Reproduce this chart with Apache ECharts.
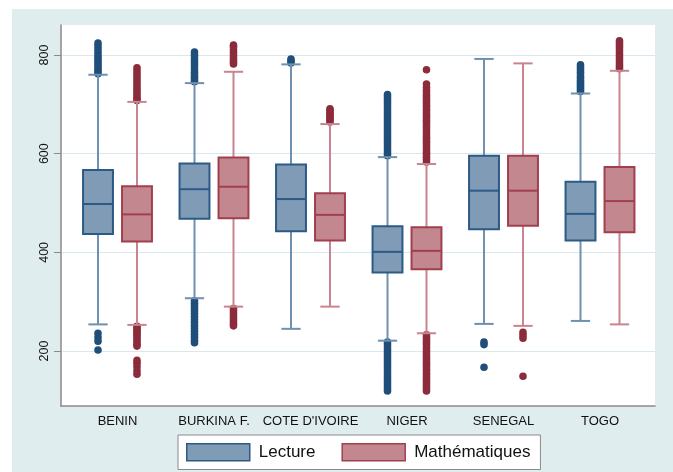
<!DOCTYPE html>
<html>
<head>
<meta charset="utf-8">
<script src="https://cdn.jsdelivr.net/npm/echarts@6/dist/echarts.min.js"></script>
<style>html,body{margin:0;padding:0;background:#fff}#c{width:673px;height:472px}</style>
</head>
<body>
<div id="c"></div>
<script>
const categories = ['BENIN', 'BURKINA F.', "COTE D'IVOIRE", 'NIGER', 'SENEGAL', 'TOGO'];
const seriesNames = ['Lecture', 'Mathématiques'];
// [lower whisker, Q1, median, Q3, upper whisker]
const lectureBox = [
  [254, 437, 498, 567, 760],
  [307, 468, 528, 580, 743],
  [245, 443, 508, 578, 781],
  [221, 359, 401, 453, 593],
  [255, 447, 525, 596, 792],
  [261, 424, 478, 543, 722]
];
const mathBox = [
  [253, 422, 477, 534, 705],
  [290, 469, 533, 592, 766],
  [290, 424, 476, 520, 660],
  [236, 366, 403, 451, 579],
  [251, 454, 525, 596, 783],
  [254, 441, 504, 573, 768]
];
const lectureOutliers = [
  [762, 766, 770, 775, 780, 785, 790, 795, 800, 806, 812, 818, 824, 236, 228, 220, 202],
  [746, 750, 755, 760, 765, 770, 776, 782, 788, 794, 800, 806, 302, 297, 292, 287, 282, 276, 270, 264, 258, 252, 246, 240, 234, 228, 222, 217],
  [784, 788, 792],
  [596, 601, 606, 611, 616, 621, 626, 631, 636, 641, 646, 651, 656, 661, 666, 671, 676, 681, 686, 691, 696, 701, 706, 711, 716, 720,
   218, 213, 208, 203, 198, 193, 188, 183, 178, 173, 168, 163, 158, 153, 148, 143, 138, 133, 128, 123, 119],
  [218, 213, 167],
  [726, 730, 734, 738, 742, 746, 750, 755, 760, 765, 770, 775, 780]
];
const mathOutliers = [
  [708, 712, 717, 722, 727, 732, 738, 744, 750, 756, 762, 768, 774, 250, 246, 242, 238, 234, 229, 224, 219, 214, 210, 181, 175, 168, 160, 153],
  [782, 786, 790, 795, 800, 805, 810, 816, 820, 286, 281, 276, 271, 266, 261, 256, 251],
  [664, 668, 672, 676, 680, 684, 688, 691],
  [583, 588, 593, 598, 603, 608, 613, 618, 623, 628, 633, 638, 643, 648, 653, 658, 663, 668, 673, 678, 683, 688, 693, 698, 703, 708, 713, 718, 723, 728, 734, 741, 770,
   233, 228, 223, 218, 213, 208, 203, 198, 193, 188, 183, 178, 173, 168, 163, 158, 153, 148, 143, 138, 133, 128, 123, 119],
  [238, 232, 226, 149],
  [772, 776, 780, 785, 790, 795, 800, 805, 810, 815, 820, 825, 829]
];
const yTicks = [200, 400, 600, 800];
const yMin = 88.6, yMax = 860.8;

const styles = [
  { fill: '#7f9bb6', border: '#2c5a86', whisker: '#6f90af', dot: '#1f4e7a', offset: -0.202 },
  { fill: '#c2878f', border: '#a23f4e', whisker: '#c9848f', dot: '#8c2b3b', offset: 0.202 }
];

function boxRender(st) {
  return function (params, api) {
    const idx = api.value(0);
    const band = api.size([1, 0])[0];
    const cx = api.coord([idx, 0])[0] + st.offset * band;
    const py = k => api.coord([idx, api.value(k)])[1];
    const yLo = py(1), yQ1 = py(2), yMed = py(3), yQ3 = py(4), yHi = py(5);
    const bw = band * 0.31, cap = band * 0.2;
    const wl = { stroke: st.whisker, lineWidth: 2 };
    return {
      type: 'group',
      children: [
        { type: 'line', shape: { x1: cx, y1: yHi, x2: cx, y2: yQ3 }, style: wl },
        { type: 'line', shape: { x1: cx, y1: yQ1, x2: cx, y2: yLo }, style: wl },
        { type: 'line', shape: { x1: cx - cap / 2, y1: yHi, x2: cx + cap / 2, y2: yHi }, style: wl },
        { type: 'line', shape: { x1: cx - cap / 2, y1: yLo, x2: cx + cap / 2, y2: yLo }, style: wl },
        { type: 'rect', shape: { x: cx - bw / 2, y: yQ3, width: bw, height: yQ1 - yQ3 },
          style: { fill: st.fill, stroke: st.border, lineWidth: 2 } },
        { type: 'line', shape: { x1: cx - bw / 2, y1: yMed, x2: cx + bw / 2, y2: yMed },
          style: { stroke: st.border, lineWidth: 2 } }
      ]
    };
  };
}
function dotRender(st) {
  return function (params, api) {
    const idx = api.value(0);
    const band = api.size([1, 0])[0];
    const p = api.coord([idx, api.value(1)]);
    return { type: 'circle', shape: { cx: p[0] + st.offset * band, cy: p[1], r: 3.8 }, style: { fill: st.dot } };
  };
}

const boxSets = [lectureBox, mathBox];
const outSets = [lectureOutliers, mathOutliers];
const series = [];
[0, 1].forEach(s => {
  const outData = [];
  outSets[s].forEach((vals, i) => vals.forEach(v => outData.push([i, v])));
  series.push({
    name: seriesNames[s], type: 'custom', xAxisIndex: 1, yAxisIndex: 1,
    renderItem: dotRender(styles[s]), data: outData, z: 2, silent: true,
    encode: { x: 0, y: 1 }
  });
  series.push({
    name: seriesNames[s], type: 'custom', xAxisIndex: 1, yAxisIndex: 1,
    renderItem: boxRender(styles[s]), data: boxSets[s].map((b, i) => [i].concat(b)), z: 3, silent: true,
    encode: { x: 0, y: [1, 2, 3, 4, 5] }
  });
});

const font = "'Liberation Sans', Arial, sans-serif";
const chart = echarts.init(document.getElementById('c'), null, { renderer: 'canvas' });
chart.setOption({
  backgroundColor: '#ffffff',
  animation: false,
  graphic: [{ type: 'rect', left: 12, top: 9, shape: { width: 661, height: 463 }, style: { fill: '#e0edef' }, z: -10 }],
  grid: [
    { left: 61, top: 25, width: 594, height: 381, show: true, backgroundColor: '#ffffff', borderWidth: 0 },
    { left: 69.25, right: 24.75, top: 25, height: 381 }
  ],
  xAxis: [
    { gridIndex: 0, type: 'value', min: 0, max: 1, axisLine: { show: true, onZero: false, lineStyle: { color: '#8a8a8a', width: 1.5 } },
      axisTick: { show: false }, axisLabel: { show: false }, splitLine: { show: false } },
    { gridIndex: 1, type: 'category', data: categories, axisLine: { show: false }, axisTick: { show: false },
      axisLabel: { margin: 9, color: '#111', fontSize: 13, fontFamily: font, interval: 0 } }
  ],
  yAxis: [
    { gridIndex: 0, type: 'value', min: yMin, max: yMax,
      axisLine: { show: true, lineStyle: { color: '#8a8a8a', width: 1.5 } },
      axisTick: { show: true, length: 7, customValues: yTicks, lineStyle: { color: '#8a8a8a', width: 1 } },
      axisLabel: { customValues: yTicks, rotate: 90, margin: 10, color: '#111', fontSize: 12.5, fontFamily: font },
      splitLine: { show: true, lineStyle: { color: '#d9e8ec', width: 1 } } },
    { gridIndex: 1, type: 'value', min: yMin, max: yMax, show: false, splitLine: { show: false } }
  ],
  legend: {
    left: 178, top: 435, orient: 'horizontal', selectedMode: false,
    backgroundColor: '#ffffff', borderColor: '#8a8a8a', borderWidth: 1, borderRadius: 0,
    padding: [8, 10, 8, 8], itemWidth: 63, itemHeight: 17, itemGap: 26,
    textStyle: { fontSize: 17, fontFamily: font, color: '#111', padding: [0, 0, 0, 4], lineHeight: 17 },
    data: [
      { name: seriesNames[0], icon: 'rect', itemStyle: { color: styles[0].fill, borderColor: styles[0].border, borderWidth: 1.5 } },
      { name: seriesNames[1], icon: 'rect', itemStyle: { color: styles[1].fill, borderColor: styles[1].border, borderWidth: 1.5 } }
    ]
  },
  series: series
});
</script>
</body>
</html>
